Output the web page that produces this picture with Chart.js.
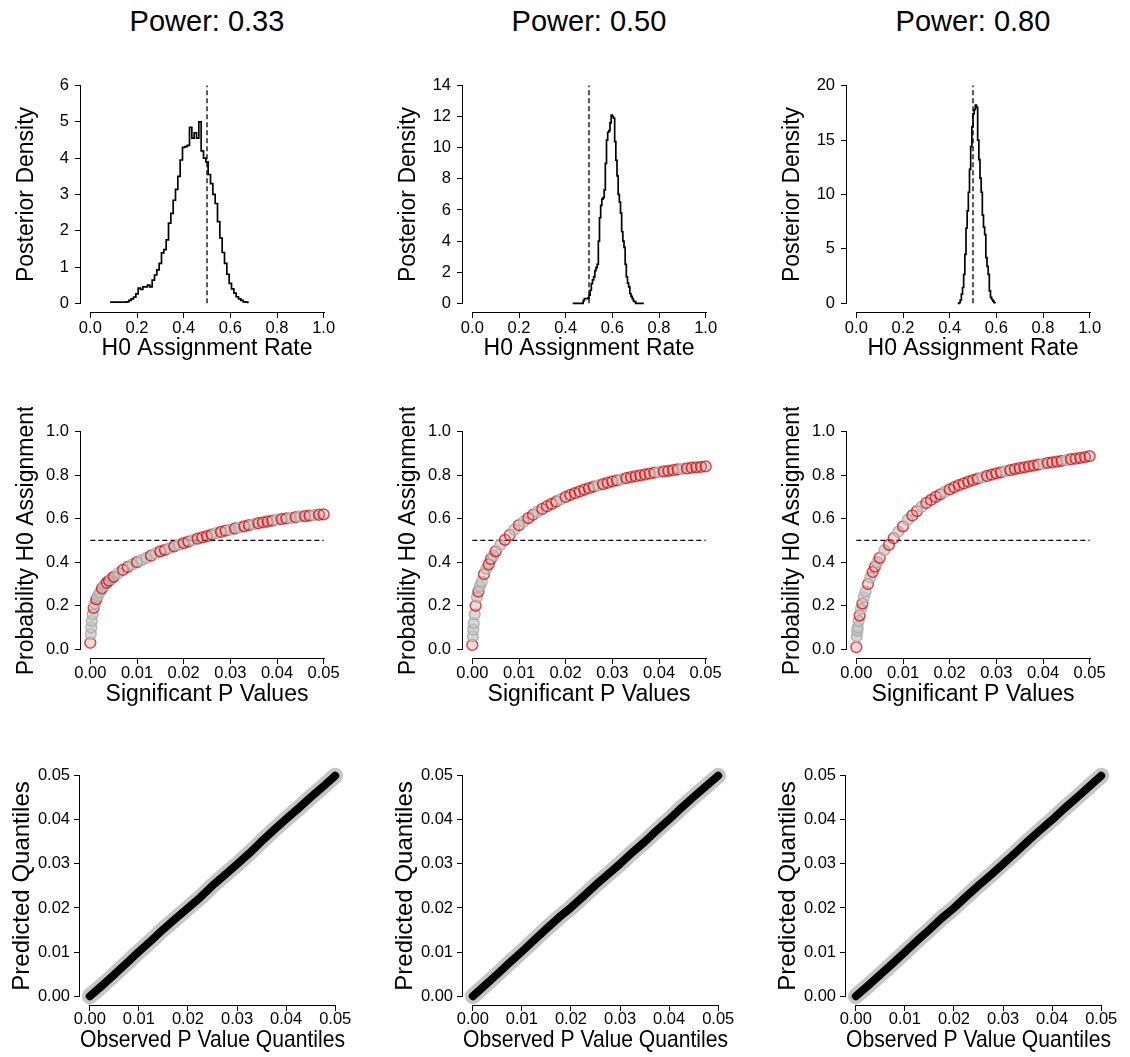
<!DOCTYPE html>
<html>
<head>
<meta charset="utf-8">
<title>H0 assignment by power</title>
<script src="https://cdn.jsdelivr.net/npm/chart.js@4.4.1/dist/chart.umd.min.js"></script>
<style>
  body { margin: 0; background: #fff; overflow: hidden; }
  #fig { position: relative; width: 1130px; height: 1057px; }
  #fig canvas { position: absolute; }
  .power {
    position: absolute; top: 7px; width: 300px; text-align: center;
    font: 29px "Liberation Sans", Arial, Helvetica, sans-serif; line-height: 29px; color: #000;
  }
</style>
</head>
<body>
<div id="fig"></div>
<script>
// column titles
const powerLabels = ['Power: 0.33', 'Power: 0.50', 'Power: 0.80'];

// top row: posterior density of the H0 assignment rate (bin start, density)
const rateBins1 = [0.085, 0.095, 0.105, 0.115, 0.125, 0.135, 0.145, 0.155, 0.165, 0.175, 0.185, 0.195,
  0.205, 0.215, 0.225, 0.235, 0.245, 0.255, 0.265, 0.275, 0.285, 0.295, 0.305, 0.315, 0.325, 0.335,
  0.345, 0.355, 0.365, 0.375, 0.385, 0.395, 0.405, 0.415, 0.425, 0.435, 0.445, 0.455, 0.465, 0.475,
  0.485, 0.495, 0.505, 0.515, 0.525, 0.535, 0.545, 0.555, 0.565, 0.575, 0.585, 0.595, 0.605, 0.615,
  0.625, 0.635, 0.645, 0.655, 0.665, 0.675];
const density1 = [0.03, 0.03, 0.03, 0.03, 0.03, 0.03, 0.03, 0.04, 0.08, 0.12, 0.17, 0.26,
  0.42, 0.38, 0.45, 0.45, 0.50, 0.45, 0.64, 0.78, 0.92, 1.10, 1.39, 1.48, 1.75, 2.21,
  2.48, 2.84, 3.14, 3.50, 3.95, 4.30, 4.32, 4.35, 4.85, 4.55, 4.70, 4.55, 5.00, 4.20,
  4.00, 3.90, 3.55, 3.30, 3.00, 2.75, 2.25, 1.80, 1.40, 1.10, 0.80, 0.55, 0.40, 0.28,
  0.18, 0.12, 0.08, 0.04, 0.03, 0];

const rateBins2 = [0.430, 0.475, 0.480, 0.485, 0.490, 0.495, 0.500, 0.505, 0.510, 0.515, 0.520, 0.525,
  0.530, 0.535, 0.540, 0.545, 0.550, 0.555, 0.560, 0.565, 0.570, 0.575, 0.580, 0.585, 0.590, 0.595,
  0.600, 0.605, 0.610, 0.615, 0.620, 0.625, 0.630, 0.635, 0.640, 0.645, 0.650, 0.655, 0.660, 0.665,
  0.670, 0.675, 0.680, 0.685, 0.690, 0.695, 0.700, 0.735];
const density2 = [0, 0.17, 0.30, 0.30, 0.30, 0.35, 0.53, 0.84, 1.26, 1.50, 1.70, 2.10,
  2.30, 2.50, 4.00, 5.50, 6.30, 6.70, 6.80, 7.30, 9.00, 10.50, 11.00, 11.10, 11.60, 12.10,
  12.00, 11.90, 10.40, 9.20, 8.20, 7.00, 6.50, 5.80, 4.60, 4.00, 3.60, 2.50, 1.70, 1.30,
  1.05, 0.63, 0.45, 0.30, 0.15, 0.10, 0, 0];

const rateBins3 = [0.435, 0.440, 0.445, 0.450, 0.455, 0.460, 0.465, 0.470, 0.475, 0.480, 0.485, 0.490,
  0.495, 0.500, 0.505, 0.510, 0.515, 0.520, 0.525, 0.530, 0.535, 0.540, 0.545, 0.550, 0.555, 0.560,
  0.565, 0.570, 0.575, 0.580, 0.585, 0.590, 0.595];
const density3 = [0, 0.05, 0.30, 0.85, 1.45, 2.65, 4.50, 6.90, 8.50, 10.20, 12.30, 14.40,
  16.20, 17.40, 17.80, 18.20, 18.00, 15.00, 13.20, 11.50, 10.20, 8.10, 7.00, 6.30, 4.20, 3.40,
  2.65, 1.15, 0.55, 0.35, 0.20, 0.05, 0];

const h0Rate = 0.5;
const rateTicks = [0, 0.2, 0.4, 0.6, 0.8, 1.0];
const rateTickLabels = ['0.0', '0.2', '0.4', '0.6', '0.8', '1.0'];
const densityTicks1 = [0, 1, 2, 3, 4, 5, 6];
const densityTicks2 = [0, 2, 4, 6, 8, 10, 12, 14];
const densityTicks3 = [0, 5, 10, 15, 20];

// middle row: probability of H0 assignment for each significant p value
const sigP = [0, 0.0001, 0.0002, 0.0003, 0.0005, 0.0007, 0.001, 0.0013, 0.0016, 0.002, 0.0025, 0.003,
  0.0035, 0.004, 0.0045, 0.005, 0.006, 0.007, 0.008, 0.009, 0.010, 0.011, 0.012, 0.013, 0.014,
  0.015, 0.016, 0.017, 0.018, 0.019, 0.020, 0.021, 0.022, 0.023, 0.024, 0.025, 0.026, 0.027,
  0.028, 0.029, 0.030, 0.031, 0.032, 0.033, 0.034, 0.035, 0.036, 0.037, 0.038, 0.039, 0.040,
  0.041, 0.042, 0.043, 0.044, 0.045, 0.046, 0.047, 0.048, 0.049, 0.050];
const probH0_1 = [0.03, 0.07, 0.10, 0.13, 0.16, 0.19, 0.21, 0.23, 0.245, 0.26, 0.28, 0.295,
  0.305, 0.315, 0.325, 0.333, 0.35, 0.365, 0.378, 0.39, 0.40, 0.41, 0.42, 0.43, 0.44,
  0.45, 0.457, 0.465, 0.473, 0.48, 0.488, 0.495, 0.502, 0.508, 0.514, 0.52, 0.527, 0.533,
  0.539, 0.545, 0.55, 0.555, 0.56, 0.565, 0.57, 0.575, 0.579, 0.583, 0.587, 0.591, 0.595,
  0.598, 0.601, 0.604, 0.607, 0.61, 0.612, 0.614, 0.616, 0.618, 0.62];
const probH0_2 = [0.02, 0.06, 0.09, 0.12, 0.16, 0.20, 0.24, 0.265, 0.29, 0.31, 0.345, 0.37,
  0.39, 0.415, 0.43, 0.45, 0.48, 0.503, 0.525, 0.55, 0.57, 0.587, 0.603, 0.618, 0.632,
  0.645, 0.657, 0.668, 0.679, 0.69, 0.70, 0.709, 0.717, 0.725, 0.733, 0.74, 0.747, 0.753,
  0.759, 0.765, 0.771, 0.776, 0.781, 0.786, 0.791, 0.795, 0.799, 0.803, 0.807, 0.811, 0.814,
  0.817, 0.82, 0.823, 0.826, 0.829, 0.831, 0.834, 0.836, 0.838, 0.84];
const probH0_3 = [0.01, 0.06, 0.085, 0.10, 0.13, 0.155, 0.185, 0.21, 0.24, 0.265, 0.30, 0.33,
  0.355, 0.38, 0.40, 0.42, 0.455, 0.48, 0.51, 0.54, 0.565, 0.595, 0.615, 0.635, 0.655,
  0.672, 0.686, 0.70, 0.712, 0.724, 0.735, 0.745, 0.754, 0.762, 0.77, 0.777, 0.784, 0.79,
  0.796, 0.802, 0.808, 0.813, 0.818, 0.823, 0.828, 0.832, 0.836, 0.84, 0.844, 0.848, 0.852,
  0.856, 0.859, 0.862, 0.866, 0.869, 0.873, 0.876, 0.879, 0.883, 0.887];
const assignCut = 0.5;
const probTicks = [0, 0.2, 0.4, 0.6, 0.8, 1.0];
const probTickLabels = ['0.0', '0.2', '0.4', '0.6', '0.8', '1.0'];
const pTicks = [0, 0.01, 0.02, 0.03, 0.04, 0.05];
const pTickLabels = ['0.00', '0.01', '0.02', '0.03', '0.04', '0.05'];

// bottom row: observed vs predicted p value quantiles
const obsQuant = [0, 0.0025, 0.005, 0.0075, 0.01, 0.0125, 0.015, 0.0175, 0.02, 0.0225, 0.025,
  0.0275, 0.03, 0.0325, 0.035, 0.0375, 0.04, 0.0425, 0.045, 0.0475, 0.05];
const predQuant1 = [0, 0.0024, 0.0049, 0.0075, 0.0101, 0.0126, 0.0152, 0.0176, 0.0200, 0.0224, 0.0251,
  0.0275, 0.0299, 0.0324, 0.0351, 0.0377, 0.0402, 0.0426, 0.0451, 0.0475, 0.05];
const predQuant2 = [0, 0.0025, 0.0050, 0.0076, 0.0101, 0.0127, 0.0153, 0.0178, 0.0201, 0.0226, 0.0252,
  0.0276, 0.0300, 0.0326, 0.0350, 0.0376, 0.0401, 0.0427, 0.0452, 0.0476, 0.05];
const predQuant3 = [0, 0.0024, 0.0049, 0.0074, 0.0100, 0.0126, 0.0151, 0.0177, 0.0200, 0.0226, 0.0251,
  0.0275, 0.0300, 0.0325, 0.0351, 0.0376, 0.0400, 0.0426, 0.0450, 0.0475, 0.05];

// ---------------------------------------------------------------
Chart.defaults.font.family = '"Liberation Sans", Arial, Helvetica, sans-serif';
Chart.defaults.color = '#000';
Chart.defaults.animation = false;
Chart.defaults.events = [];
Chart.defaults.plugins.legend.display = false;
Chart.defaults.plugins.tooltip.enabled = false;

const fig = document.getElementById('fig');

// plot regions of the 3x3 grid
const colLeft = [81, 463, 847];
const colLeftQQ = [80, 463, 846];
const rows = [
  { top: 73, height: 239, width: 252, titlePad: 13, tickPad: 1, yPad: 6, tickSize: 16.5, titleSize: 23 },
  { top: 419, height: 239, width: 252, titlePad: 13, tickPad: 0, yPad: 6, tickSize: 16.5, titleSize: 23 },
  { top: 765, height: 240, width: 265, titlePad: 9, tickPad: -1, yPad: 4, tickSize: 16.5, titleSize: 24 }
];
const Y_BOX = 81, X_BOX = 52, PAD_TOP = 12, PAD_RIGHT = 20;

// titles over the columns
powerLabels.forEach((txt, i) => {
  const d = document.createElement('div');
  d.className = 'power';
  d.textContent = txt;
  d.style.left = (colLeft[i] + rows[0].width / 2 - 150) + 'px';
  fig.appendChild(d);
});

function makeCanvas(left, row) {
  const c = document.createElement('canvas');
  c.width = Y_BOX + row.width + PAD_RIGHT;
  c.height = PAD_TOP + row.height + X_BOX;
  c.style.left = (left - Y_BOX) + 'px';
  c.style.top = (row.top - PAD_TOP) + 'px';
  fig.appendChild(c);
  return c;
}

// R style axis lines: only from first to last tick
const rAxes = {
  id: 'rAxes',
  afterDraw(chart) {
    const { ctx, chartArea, scales: { x, y } } = chart;
    const xt = x.ticks, yt = y.ticks;
    const yb = Math.round(chartArea.bottom) + 0.5;
    const xl = Math.round(chartArea.left) - 0.5;
    ctx.save();
    ctx.strokeStyle = '#000';
    ctx.lineWidth = 1;
    ctx.beginPath();
    ctx.moveTo(Math.round(x.getPixelForValue(xt[0].value)), yb);
    ctx.lineTo(Math.round(x.getPixelForValue(xt[xt.length - 1].value)) + 1, yb);
    ctx.moveTo(xl, Math.round(y.getPixelForValue(yt[0].value)) + 1);
    ctx.lineTo(xl, Math.round(y.getPixelForValue(yt[yt.length - 1].value)));
    ctx.stroke();
    ctx.restore();
  }
};

function rScale(ticks, labels, title, row, horizontal) {
  const range = ticks[ticks.length - 1] - ticks[0];
  return {
    type: 'linear',
    min: ticks[0] - 0.04 * range,
    max: ticks[ticks.length - 1] + 0.04 * range,
    afterBuildTicks: s => { s.ticks = ticks.map(v => ({ value: v })); },
    afterFit: s => { if (horizontal) s.height = X_BOX; else s.width = Y_BOX; },
    border: { display: false },
    grid: { drawOnChartArea: false, drawTicks: true, tickLength: 6, color: '#000', lineWidth: 1 },
    ticks: {
      autoSkip: false, maxRotation: 0, minRotation: 0,
      padding: horizontal ? row.tickPad : row.yPad,
      font: { size: row.tickSize }, color: '#000',
      callback: (v, i) => labels[i]
    },
    title: {
      display: true, text: title, color: '#000', font: { size: row.titleSize },
      padding: horizontal ? { top: 0, bottom: 2 } : { top: row.titlePad, bottom: 0 }
    }
  };
}

function baseOptions(xScale, yScale) {
  return {
    responsive: false,
    layout: { padding: { top: PAD_TOP, right: PAD_RIGHT, bottom: 0, left: 0 } },
    scales: { x: xScale, y: yScale }
  };
}

const xy = (xs, ys) => xs.map((v, i) => ({ x: v, y: ys[i] }));

// ---- top row: step outline of the posterior density
const histData = [
  [rateBins1, density1, densityTicks1],
  [rateBins2, density2, densityTicks2],
  [rateBins3, density3, densityTicks3]
];
histData.forEach(([bins, dens, yTicks], i) => {
  const row = rows[0];
  const cv = makeCanvas(colLeft[i], row);
  new Chart(cv, {
    type: 'line',
    data: {
      datasets: [{
        data: xy(bins, dens),
        stepped: true,
        borderColor: '#000',
        borderWidth: 1.7,
        pointRadius: 0,
        fill: false,
        order: 1
      }, {
        data: [{ x: h0Rate, y: yTicks[0] }, { x: h0Rate, y: yTicks[yTicks.length - 1] }],
        borderColor: '#000',
        borderWidth: 1.3,
        borderDash: [5, 3],
        pointRadius: 0,
        order: 2
      }]
    },
    options: baseOptions(
      rScale(rateTicks, rateTickLabels, 'H0 Assignment Rate', row, true),
      rScale(yTicks, yTicks.map(String), 'Posterior Density', row, false)
    ),
    plugins: [rAxes]
  });
});

// ---- middle row: grey to red rings along the assignment curve
function isRed(ctx) {
  const y = ctx.raw ? ctx.raw.y : 0;
  const share = y < 0.12 ? 0.08 : Math.min(0.85, 0.15 + y);
  return ((ctx.dataIndex * 0.618034) % 1) < share;
}
[probH0_1, probH0_2, probH0_3].forEach((probs, i) => {
  const row = rows[1];
  const cv = makeCanvas(colLeft[i], row);
  new Chart(cv, {
    type: 'scatter',
    data: {
      datasets: [{
        data: xy(sigP, probs),
        pointRadius: 5.4,
        pointBorderWidth: 1.5,
        pointBorderColor: ctx => isRed(ctx) ? 'rgba(205,0,0,0.7)' : 'rgba(170,170,170,0.85)',
        pointBackgroundColor: ctx => isRed(ctx) ? 'rgba(220,130,130,0.3)' : 'rgba(195,195,195,0.65)',
        order: 1
      }, {
        data: [{ x: pTicks[0], y: assignCut }, { x: pTicks[pTicks.length - 1], y: assignCut }],
        showLine: true,
        borderColor: '#000',
        borderWidth: 1.2,
        borderDash: [5, 3],
        pointRadius: 0,
        order: 2
      }]
    },
    options: baseOptions(
      rScale(pTicks, pTickLabels, 'Significant P Values', row, true),
      rScale(probTicks, probTickLabels, 'Probability H0 Assignment', row, false)
    ),
    plugins: [rAxes]
  });
});

// ---- bottom row: quantile-quantile lines, grey predictive band under black
[predQuant1, predQuant2, predQuant3].forEach((pred, i) => {
  const row = rows[2];
  const cv = makeCanvas(colLeftQQ[i], row);
  new Chart(cv, {
    type: 'line',
    data: {
      datasets: [{
        data: xy(obsQuant, pred),
        borderColor: '#000',
        borderWidth: 8,
        borderCapStyle: 'round',
        borderJoinStyle: 'round',
        pointRadius: 0,
        order: 1
      }, {
        data: xy(obsQuant, pred),
        borderColor: '#c6c6c6',
        borderWidth: 16,
        borderCapStyle: 'round',
        borderJoinStyle: 'round',
        pointRadius: 0,
        order: 2
      }]
    },
    options: baseOptions(
      rScale(pTicks, pTickLabels, 'Observed P Value Quantiles', row, true),
      rScale(pTicks, pTickLabels, 'Predicted Quantiles', row, false)
    ),
    plugins: [rAxes]
  });
});
</script>
</body>
</html>
